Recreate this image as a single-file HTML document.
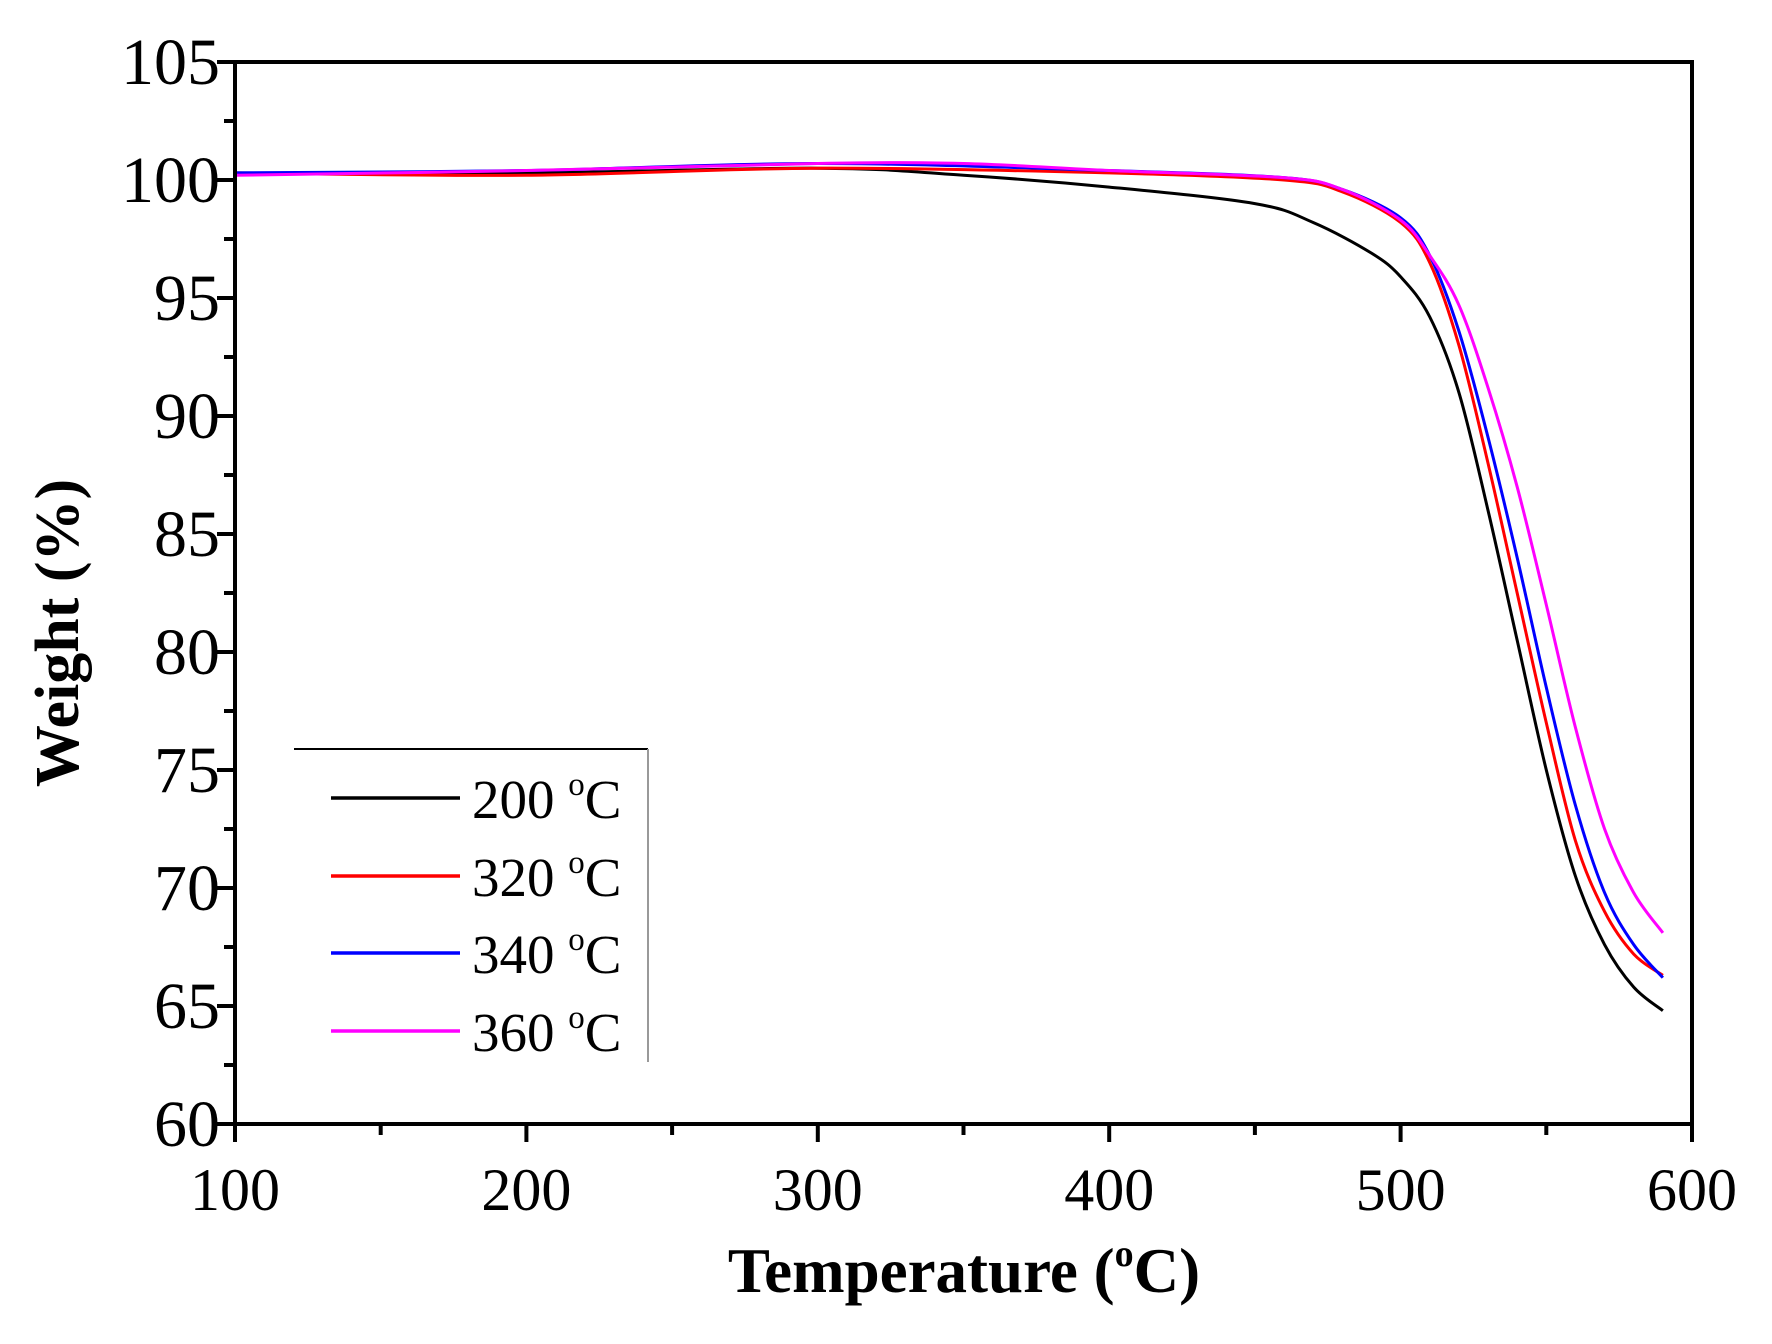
<!DOCTYPE html>
<html><head><meta charset="utf-8"><style>body{margin:0;background:#fff}</style></head><body>
<svg width="1772" height="1339" xmlns="http://www.w3.org/2000/svg" font-family="Liberation Serif, serif">
<rect width="1772" height="1339" fill="#fff"/>
<g id="curves" fill="none" stroke-width="3"></g>
<g stroke="#000" stroke-width="4" fill="none">
<rect x="235" y="62" width="1457" height="1062"/>
</g>
<g id="ticks" stroke="#000" stroke-width="4"></g>
<g id="labels" font-size="62" fill="#000"></g>
<g stroke="#000" stroke-width="2"><line x1="294" y1="749" x2="648" y2="749"/><line x1="648" y1="749" x2="648" y2="1062" stroke="#999"/></g>
<g stroke-width="3.5">
<line x1="331" y1="798" x2="460" y2="798" stroke="#000"/>
<line x1="331" y1="876" x2="460" y2="876" stroke="#f00"/>
<line x1="331" y1="953" x2="460" y2="953" stroke="#00f"/>
<line x1="331" y1="1031" x2="460" y2="1031" stroke="#f0f"/>
</g>
<g font-size="55" fill="#000">
<text x="472" y="818">200 <tspan font-size="33" dy="-23">o</tspan><tspan dy="23">C</tspan></text>
<text x="472" y="896">320 <tspan font-size="33" dy="-23">o</tspan><tspan dy="23">C</tspan></text>
<text x="472" y="973">340 <tspan font-size="33" dy="-23">o</tspan><tspan dy="23">C</tspan></text>
<text x="472" y="1051">360 <tspan font-size="33" dy="-23">o</tspan><tspan dy="23">C</tspan></text>
</g>
<text x="964" y="1292" font-size="63" font-weight="bold" text-anchor="middle">Temperature (<tspan font-size="38" dy="-26">o</tspan><tspan dy="26">C)</tspan></text>
<text transform="translate(78,633) rotate(-90)" font-size="62" font-weight="bold" text-anchor="middle">Weight (%)</text>
</svg>
<script>
const X=t=>235+(t-100)*2.914, Y=w=>62+(105-w)*23.6;
const data={
"#000":[[100,100.3],[200,100.3],[300,100.5],[350,100.2],[400,99.7],[450,99.0],[470,98.2],[490,96.9],[500,95.9],[510,94.2],[520,91],[530,86],[540,80.5],[550,75],[560,70.5],[570,67.6],[580,65.8],[590,64.8]],
"#f00":[[100,100.3],[200,100.2],[300,100.5],[400,100.3],[460,100],[480,99.5],[500,98.2],[510,96.5],[520,93],[530,88],[540,82.5],[550,77],[560,72],[570,69],[580,67.2],[590,66.3]],
"#00f":[[100,100.3],[200,100.4],[300,100.7],[400,100.4],[460,100.1],[480,99.6],[500,98.4],[510,96.8],[520,93.6],[530,89.1],[540,84],[550,78.5],[560,73.5],[570,69.8],[580,67.6],[590,66.2]],
"#f0f":[[100,100.2],[200,100.4],[300,100.7],[350,100.7],[400,100.4],[460,100.1],[480,99.6],[500,98.3],[510,96.8],[520,94.7],[530,91.2],[540,87],[550,82],[560,76.8],[570,72.5],[580,69.8],[590,68.1]]};
function path(p){let d=`M${X(p[0][0])},${Y(p[0][1])}`;for(let i=0;i<p.length-1;i++){const p0=p[Math.max(i-1,0)],p1=p[i],p2=p[i+1],p3=p[Math.min(i+2,p.length-1)];
const c1=[p1[0]+(p2[0]-p0[0])/6,p1[1]+(p2[1]-p0[1])/6],c2=[p2[0]-(p3[0]-p1[0])/6,p2[1]-(p3[1]-p1[1])/6];
d+=` C${X(c1[0])},${Y(c1[1])} ${X(c2[0])},${Y(c2[1])} ${X(p2[0])},${Y(p2[1])}`;}return d;}
const ns="http://www.w3.org/2000/svg";const g=document.getElementById("curves");
for(const c of ["#000","#f00","#00f","#f0f"]){const e=document.createElementNS(ns,"path");e.setAttribute("d",path(data[c]));e.setAttribute("stroke",c);g.appendChild(e);}
const tk=document.getElementById("ticks"),lb=document.getElementById("labels");
function line(a,b,c,d){const e=document.createElementNS(ns,"line");e.setAttribute("x1",a);e.setAttribute("y1",b);e.setAttribute("x2",c);e.setAttribute("y2",d);tk.appendChild(e);}
function text(x,y,s,anc,fs){const e=document.createElementNS(ns,"text");e.setAttribute("x",x);e.setAttribute("y",y);e.setAttribute("text-anchor",anc);if(fs)e.setAttribute("font-size",fs);e.textContent=s;lb.appendChild(e);}
for(let w=60;w<=105;w+=2.5){const maj=w%5===0;line(235-(maj?18:11),Y(w),235,Y(w));if(maj)text(220,Y(w)+22,String(w),"end",66);}
for(let t=100;t<=600;t+=50){const maj=t%100===0;line(X(t),1124,X(t),1124+(maj?18:11));if(maj)text(X(t),1210,String(t),"middle",60);}
</script>
</body></html>
